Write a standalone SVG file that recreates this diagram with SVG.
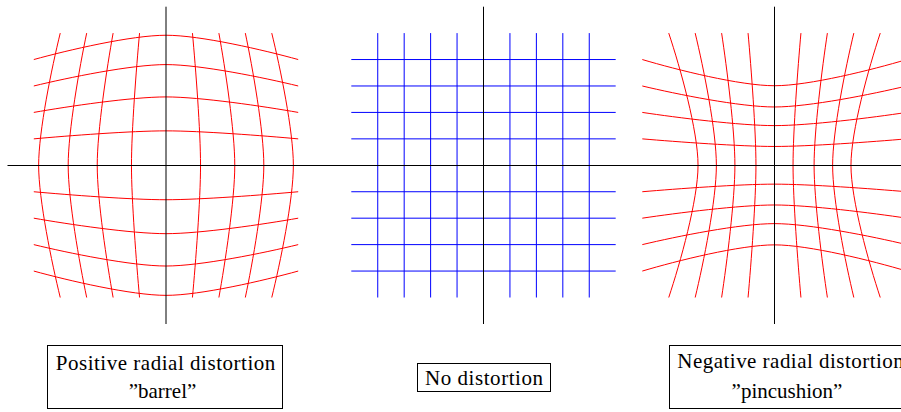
<svg xmlns="http://www.w3.org/2000/svg" width="901" height="412" viewBox="0 0 901 412">
<style>
.r{fill:none;stroke:#ff0000;stroke-width:1}
.b{fill:none;stroke:#0000ff;stroke-width:1}
.ax{fill:none;stroke:#000;stroke-width:1}
.box{fill:#fff;stroke:#000;stroke-width:1}
.t{font-size:21px;fill:#000}
</style>
<rect width="901" height="412" fill="#fff"/>
<g id="barrel-grid" class="r">
<path d="M33.8 59.54C68.17 50.06 131.63 35.24 166 35.24S263.83 50.06 298.2 59.54"/>
<path d="M33.8 85.98C68.17 77.63 131.63 64.58 166 64.58S263.83 77.63 298.2 85.98"/>
<path d="M33.8 112.42C68.17 106.37 131.63 96.92 166 96.92S263.83 106.37 298.2 112.42"/>
<path d="M33.8 138.86C68.17 135.74 131.63 130.86 166 130.86S263.83 135.74 298.2 138.86"/>
<path d="M33.8 191.74C68.17 194.86 131.63 199.74 166 199.74S263.83 194.86 298.2 191.74"/>
<path d="M33.8 218.18C68.17 224.23 131.63 233.68 166 233.68S263.83 224.23 298.2 218.18"/>
<path d="M33.8 244.62C68.17 252.97 131.63 266.02 166 266.02S263.83 252.97 298.2 244.62"/>
<path d="M33.8 271.06C68.17 280.54 131.63 295.36 166 295.36S263.83 280.54 298.2 271.06"/>
<path d="M60.24 33.1C51.82 67.47 38.64 130.93 38.64 165.3S51.82 263.13 60.24 297.5"/>
<path d="M86.68 33.1C79.46 67.47 68.18 130.93 68.18 165.3S79.46 263.13 86.68 297.5"/>
<path d="M113.12 33.1C106.92 67.47 97.22 130.93 97.22 165.3S106.92 263.13 113.12 297.5"/>
<path d="M139.56 33.1C136.4 67.47 131.46 130.93 131.46 165.3S136.4 263.13 139.56 297.5"/>
<path d="M192.44 33.1C195.6 67.47 200.54 130.93 200.54 165.3S195.6 263.13 192.44 297.5"/>
<path d="M218.88 33.1C225.08 67.47 234.78 130.93 234.78 165.3S225.08 263.13 218.88 297.5"/>
<path d="M245.32 33.1C252.54 67.47 263.82 130.93 263.82 165.3S252.54 263.13 245.32 297.5"/>
<path d="M271.76 33.1C280.18 67.47 293.36 130.93 293.36 165.3S280.18 263.13 271.76 297.5"/>
</g>
<g id="ideal-grid" class="b">
<path d="M377.74 33.1V297.5M404.18 33.1V297.5M430.62 33.1V297.5M457.06 33.1V297.5M509.94 33.1V297.5M536.38 33.1V297.5M562.82 33.1V297.5M589.26 33.1V297.5"/>
<path d="M351.3 59.54H615.7M351.3 85.98H615.7M351.3 112.42H615.7M351.3 138.86H615.7M351.3 191.74H615.7M351.3 218.18H615.7M351.3 244.62H615.7M351.3 271.06H615.7"/>
</g>
<g id="pincushion-grid" class="r">
<path d="M642.3 59.54C676.67 69.76 740.13 85.74 774.5 85.74S872.33 69.76 906.7 59.54"/>
<path d="M642.3 85.98C676.67 94.17 740.13 106.98 774.5 106.98S872.33 94.17 906.7 85.98"/>
<path d="M642.3 112.42C676.67 117.57 740.13 125.62 774.5 125.62S872.33 117.57 906.7 112.42"/>
<path d="M642.3 138.86C676.67 141.82 740.13 146.46 774.5 146.46S872.33 141.82 906.7 138.86"/>
<path d="M642.3 191.74C676.67 188.78 740.13 184.14 774.5 184.14S872.33 188.78 906.7 191.74"/>
<path d="M642.3 218.18C676.67 213.03 740.13 204.98 774.5 204.98S872.33 213.03 906.7 218.18"/>
<path d="M642.3 244.62C676.67 236.43 740.13 223.62 774.5 223.62S872.33 236.43 906.7 244.62"/>
<path d="M642.3 271.06C676.67 260.84 740.13 244.86 774.5 244.86S872.33 260.84 906.7 271.06"/>
<path d="M668.74 33.1C680.17 67.47 698.04 130.93 698.04 165.3S680.17 263.13 668.74 297.5"/>
<path d="M695.18 33.1C703.45 67.47 716.38 130.93 716.38 165.3S703.45 263.13 695.18 297.5"/>
<path d="M721.62 33.1C726.81 67.47 734.92 130.93 734.92 165.3S726.81 263.13 721.62 297.5"/>
<path d="M748.06 33.1C751.14 67.47 755.96 130.93 755.96 165.3S751.14 263.13 748.06 297.5"/>
<path d="M800.94 33.1C797.86 67.47 793.04 130.93 793.04 165.3S797.86 263.13 800.94 297.5"/>
<path d="M827.38 33.1C822.19 67.47 814.08 130.93 814.08 165.3S822.19 263.13 827.38 297.5"/>
<path d="M853.82 33.1C845.55 67.47 832.62 130.93 832.62 165.3S845.55 263.13 853.82 297.5"/>
<path d="M880.26 33.1C868.83 67.47 850.96 130.93 850.96 165.3S868.83 263.13 880.26 297.5"/>
</g>
<g id="axes" class="ax">
<path d="M7.5 165.5H901"/>
<path d="M166 6.7V324"/>
<path d="M483.5 6.7V324"/>
<path d="M774.5 6.7V324"/>
</g>
<g id="label-barrel" font-family="'Liberation Serif', 'Times New Roman', serif">
<rect class="box" x="47.5" y="345.5" width="235" height="63"/>
<text class="t" x="55.7" y="369.5" textLength="219.6" lengthAdjust="spacing">Positive radial distortion</text>
<text class="t" x="162.5" y="398" text-anchor="middle">”barrel”</text>
</g>
<g id="label-none" font-family="'Liberation Serif', 'Times New Roman', serif">
<rect class="box" x="417.5" y="363.5" width="133" height="28"/>
<text class="t" x="425" y="384.5" textLength="118" lengthAdjust="spacing">No distortion</text>
</g>
<g id="label-pincushion" font-family="'Liberation Serif', 'Times New Roman', serif">
<rect class="box" x="669.5" y="345.5" width="245" height="63"/>
<text class="t" x="677.3" y="367.5" textLength="226.5" lengthAdjust="spacing">Negative radial distortion</text>
<text class="t" x="787" y="398" text-anchor="middle">”pincushion”</text>
</g>
</svg>
